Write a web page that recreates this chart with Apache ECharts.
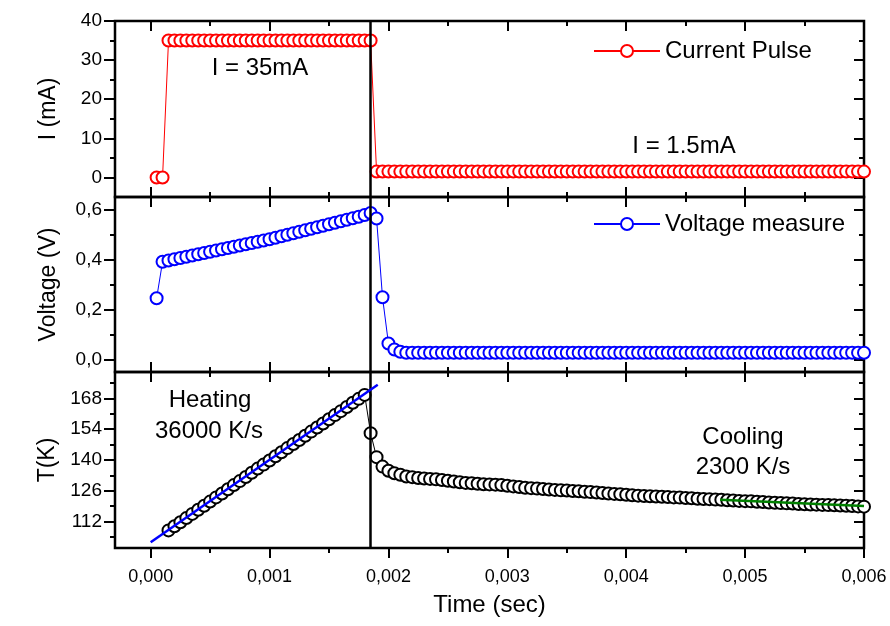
<!DOCTYPE html>
<html><head><meta charset="utf-8">
<script src="https://cdn.jsdelivr.net/npm/echarts@6/dist/echarts.min.js"></script>
<style>html,body{margin:0;padding:0;background:#fff}#c{width:890px;height:626px}</style>
</head><body><div id="c"></div>
<script>
// time of each sample (ms)
const timeMs = [
0.05,0.10,0.15,0.20,0.25,0.30,0.35,0.40,0.45,0.50,
0.55,0.60,0.65,0.70,0.75,0.80,0.85,0.90,0.95,1.00,
1.05,1.10,1.15,1.20,1.25,1.30,1.35,1.40,1.45,1.50,
1.55,1.60,1.65,1.70,1.75,1.80,1.85,1.90,1.95,2.00,
2.05,2.10,2.15,2.20,2.25,2.30,2.35,2.40,2.45,2.50,
2.55,2.60,2.65,2.70,2.75,2.80,2.85,2.90,2.95,3.00,
3.05,3.10,3.15,3.20,3.25,3.30,3.35,3.40,3.45,3.50,
3.55,3.60,3.65,3.70,3.75,3.80,3.85,3.90,3.95,4.00,
4.05,4.10,4.15,4.20,4.25,4.30,4.35,4.40,4.45,4.50,
4.55,4.60,4.65,4.70,4.75,4.80,4.85,4.90,4.95,5.00,
5.05,5.10,5.15,5.20,5.25,5.30,5.35,5.40,5.45,5.50,
5.55,5.60,5.65,5.70,5.75,5.80,5.85,5.90,5.95,6.00];

// current pulse (mA)
const currentMA = [
0,0,35,35,35,35,35,35,35,35,
35,35,35,35,35,35,35,35,35,35,
35,35,35,35,35,35,35,35,35,35,
35,35,35,35,35,35,35,1.5,1.5,1.5,
1.5,1.5,1.5,1.5,1.5,1.5,1.5,1.5,1.5,1.5,
1.5,1.5,1.5,1.5,1.5,1.5,1.5,1.5,1.5,1.5,
1.5,1.5,1.5,1.5,1.5,1.5,1.5,1.5,1.5,1.5,
1.5,1.5,1.5,1.5,1.5,1.5,1.5,1.5,1.5,1.5,
1.5,1.5,1.5,1.5,1.5,1.5,1.5,1.5,1.5,1.5,
1.5,1.5,1.5,1.5,1.5,1.5,1.5,1.5,1.5,1.5,
1.5,1.5,1.5,1.5,1.5,1.5,1.5,1.5,1.5,1.5,
1.5,1.5,1.5,1.5,1.5,1.5,1.5,1.5,1.5,1.5];

// voltage measure (V)
const voltageV = [
0.245,0.391,0.396,0.401,0.406,0.411,0.416,0.421,0.426,0.431,
0.436,0.441,0.446,0.451,0.456,0.461,0.466,0.471,0.476,0.481,
0.487,0.493,0.499,0.505,0.511,0.517,0.523,0.529,0.535,0.541,
0.547,0.553,0.559,0.565,0.571,0.578,0.586,0.564,0.249,0.064,
0.040,0.031,0.027,0.027,0.027,0.027,0.027,0.027,0.027,0.027,
0.027,0.027,0.027,0.027,0.027,0.027,0.027,0.027,0.027,0.027,
0.027,0.027,0.027,0.027,0.027,0.027,0.027,0.027,0.027,0.027,
0.027,0.027,0.027,0.027,0.027,0.027,0.027,0.027,0.027,0.027,
0.027,0.027,0.027,0.027,0.027,0.027,0.027,0.027,0.027,0.027,
0.027,0.027,0.027,0.027,0.027,0.027,0.027,0.027,0.027,0.027,
0.027,0.027,0.027,0.027,0.027,0.027,0.027,0.027,0.027,0.027,
0.027,0.027,0.027,0.027,0.027,0.027,0.027,0.027,0.027,0.027];

// temperature (K)
const tempK = [
null,null,108.0,109.9,111.7,113.6,115.5,117.4,119.2,121.1,
123.0,124.8,126.7,128.6,130.4,132.3,134.2,136.1,137.9,139.8,
141.7,143.5,145.4,147.3,149.1,151.0,152.9,154.8,156.6,158.5,
160.4,162.2,164.1,166.0,167.8,169.6,152.2,141.3,137.0,135.1,
134.0,133.3,132.5,132.2,131.8,131.6,131.4,131.2,130.9,130.6,
130.2,129.9,129.6,129.4,129.2,129.0,128.9,128.8,128.6,128.3,
128.0,127.7,127.4,127.2,127.0,126.8,126.6,126.4,126.2,126.1,
125.9,125.8,125.6,125.4,125.2,125.0,124.8,124.6,124.4,124.2,
124.0,123.8,123.6,123.5,123.4,123.3,123.2,123.0,122.9,122.7,
122.6,122.4,122.3,122.2,122.0,121.9,121.7,121.6,121.4,121.3,
121.2,121.0,120.9,120.7,120.6,120.4,120.3,120.2,120.0,119.9,
119.8,119.7,119.6,119.5,119.4,119.3,119.2,119.1,118.9,118.8];

// linear fits
const heatFitT = [0, 1.91];
const heatFitK = [102.6, 174.2];
const coolFitT = [4.79, 6.0];
const coolFitK = [121.9, 119.1];
const switchTimeMs = 1.85;

// ticks
const xMajor = [0,1,2,3,4,5,6];
const xMinor = [0.5,1.5,2.5,3.5,4.5,5.5];
const iMajor = [0,10,20,30,40];
const iMinor = [5,15,25,35];
const vMajor = [0,0.2,0.4,0.6];
const vMinor = [0.1,0.3,0.5];
const tMajor = [112,126,140,154,168];
const tMinor = [105,119,133,147,161,175];

const FONT = '"Liberation Sans", Arial, sans-serif';
const comma = s => s.replace('.', ',');

const grid = [
  {left:115, right:26, top:21, height:176},
  {left:115, right:26, top:197, height:175},
  {left:115, right:26, top:372, height:176}
].map(g => Object.assign(g, {show:true, borderColor:'#000', borderWidth:2.5, backgroundColor:'transparent', containLabel:false}));

const xAxis = [], yAxis = [];
function tick(len, inside, vals) {
  return {show:true, inside:inside, length:len, customValues:vals, lineStyle:{color:'#000', width:2}};
}
function addX(gi, pos, vals, len, inside, extra) {
  xAxis.push(Object.assign({type:'value', gridIndex:gi, position:pos, min:-0.3, max:6,
    axisLine:{show:false, onZero:false}, splitLine:{show:false}, axisTick:tick(len, inside, vals), axisLabel:{show:false}}, extra || {}));
  return xAxis.length - 1;
}
function addY(gi, pos, range, vals, len, inside, extra) {
  yAxis.push(Object.assign({type:'value', gridIndex:gi, position:pos, min:range[0], max:range[1],
    axisLine:{show:false, onZero:false}, splitLine:{show:false}, axisTick:tick(len, inside, vals), axisLabel:{show:false}}, extra || {}));
  return yAxis.length - 1;
}
const yRanges = [[-5,40],[-0.05,0.65],[100,180]];
const yMajors = [iMajor, vMajor, tMajor];
const yMinors = [iMinor, vMinor, tMinor];
const yNames = ['I (mA)', 'Voltage (V)', 'T(K)'];
const yFmt = [v => String(v), v => comma(v.toFixed(1)), v => String(v)];
const xMain = [], yMain = [];
for (let gi = 0; gi < 3; gi++) {
  const last = gi === 2;
  xMain.push(addX(gi, 'bottom', xMajor, 10, !last, last ? {
    axisLabel:{show:true, customValues:xMajor, formatter:v => comma((v/1000).toFixed(3)), fontSize:18, color:'#000', fontFamily:FONT, margin:20},
    name:'Time (sec)', nameLocation:'middle', nameGap:45, nameTextStyle:{fontSize:24, color:'#000', fontFamily:FONT}
  } : null));
  addX(gi, 'bottom', xMinor, 5, !last);
  addX(gi, 'top', xMajor, 10, true);
  addX(gi, 'top', xMinor, 5, true);
  yMain.push(addY(gi, 'left', yRanges[gi], yMajors[gi], 11, false, {
    axisLabel:{show:true, customValues:yMajors[gi], formatter:yFmt[gi], fontSize:19, color:'#000', fontFamily:FONT, margin:13},
    name:yNames[gi], nameLocation:'middle', nameRotate:90, nameGap:55, nameTextStyle:{fontSize:23, color:'#000', fontFamily:FONT}
  }));
  addY(gi, 'left', yRanges[gi], yMinors[gi], 5, false);
  addY(gi, 'right', yRanges[gi], yMajors[gi], 10, true);
  addY(gi, 'right', yRanges[gi], yMinors[gi], 5, true);
}

const vline = {silent:true, symbol:'none', label:{show:false}, lineStyle:{color:'#000', width:2.5, type:'solid'}, data:[{xAxis:switchTimeMs}]};
function pts(arr) { return timeMs.map((t, i) => [t, arr[i]]); }
function ser(name, gi, arr, color) {
  return {name:name, type:'line', xAxisIndex:xMain[gi], yAxisIndex:yMain[gi], data:pts(arr),
    symbol:'emptyCircle', symbolSize:12, showAllSymbol:true, connectNulls:false,
    lineStyle:{color:color, width:1}, itemStyle:{color:color, borderColor:color, borderWidth:1},
    markLine:vline, z:3};
}

const option = {
  animation:false,
  backgroundColor:'#fff',
  grid:grid,
  xAxis:xAxis,
  yAxis:yAxis,
  legend:[
    {data:['Current Pulse'], left:588, top:34, itemWidth:66, itemHeight:15, selectedMode:false,
      textStyle:{fontSize:24, color:'#000', fontFamily:FONT}},
    {data:['Voltage measure'], left:588, top:207, itemWidth:66, itemHeight:15, selectedMode:false,
      textStyle:{fontSize:24, color:'#000', fontFamily:FONT}}
  ],
  series:[
    ser('Current Pulse', 0, currentMA, '#ff0000'),
    ser('Voltage measure', 1, voltageV, '#0000ff'),
    ser('Temperature', 2, tempK, '#000000'),
    {name:'heatFit', type:'line', xAxisIndex:xMain[2], yAxisIndex:yMain[2], symbol:'none', z:5,
      data:heatFitT.map((t, i) => [t, heatFitK[i]]), lineStyle:{color:'#0000ff', width:2.5}},
    {name:'coolFit', type:'line', xAxisIndex:xMain[2], yAxisIndex:yMain[2], symbol:'none', z:5,
      data:coolFitT.map((t, i) => [t, coolFitK[i]]), lineStyle:{color:'#008000', width:2.5}}
  ],
  graphic:[
    {type:'text', x:260, y:68, style:{text:'I = 35mA', fontSize:24, fontFamily:FONT, fill:'#000', align:'center', verticalAlign:'middle'}},
    {type:'text', x:684, y:146, style:{text:'I = 1.5mA', fontSize:24, fontFamily:FONT, fill:'#000', align:'center', verticalAlign:'middle'}},
    {type:'text', x:210, y:400, style:{text:'Heating', fontSize:24, fontFamily:FONT, fill:'#000', align:'center', verticalAlign:'middle'}},
    {type:'text', x:209, y:431, style:{text:'36000 K/s', fontSize:24, fontFamily:FONT, fill:'#000', align:'center', verticalAlign:'middle'}},
    {type:'text', x:743, y:437, style:{text:'Cooling', fontSize:24, fontFamily:FONT, fill:'#000', align:'center', verticalAlign:'middle'}},
    {type:'text', x:743, y:467, style:{text:'2300 K/s', fontSize:24, fontFamily:FONT, fill:'#000', align:'center', verticalAlign:'middle'}}
  ]
};
const chart = echarts.init(document.getElementById('c'), null, {renderer:'canvas'});
chart.setOption(option);
</script></body></html>
